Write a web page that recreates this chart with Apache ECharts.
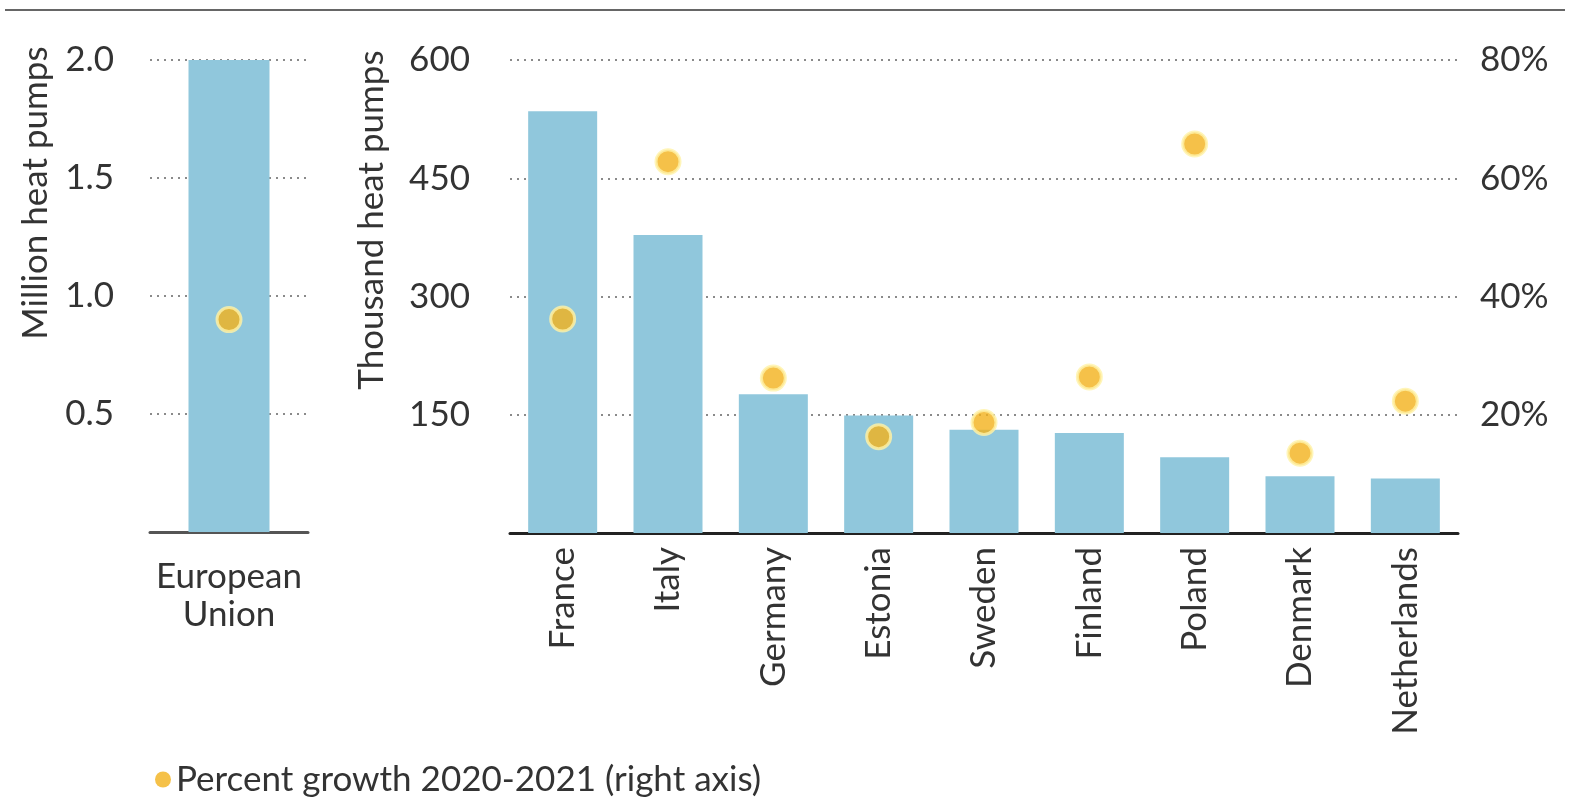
<!DOCTYPE html>
<html>
<head>
<meta charset="utf-8">
<script src="https://cdn.jsdelivr.net/npm/echarts@6/dist/echarts.min.js"></script>
<style>
html,body{margin:0;padding:0;background:#fff;}
#chart{width:1585px;height:806px;}
</style>
</head>
<body>
<div id="chart"></div>
<script>
const euCategory = ['European Union'];
const euHeatPumpsMillion = [2.03];
const euGrowthPct = [36];

const countries = ['France','Italy','Germany','Estonia','Sweden','Finland','Poland','Denmark','Netherlands'];
const heatPumpsThousand = [535, 378, 176, 149, 131, 127, 96, 72, 69];
const growthPct = [36.2, 62.8, 26.2, 16.3, 18.7, 26.4, 65.8, 13.5, 22.3];

const seriesGrowthName = 'Percent growth 2020-2021 (right axis)';

const FONT = 'Lato';
const TXT = '#333333';
const FS = 35;
const barColor = '#90c7dc';
const dotStyle = { color: '#f2b21c', borderColor: '#fff2a8', borderWidth: 3 };
const gridLine = { show: true, lineStyle: { color: '#8a8a8a', width: 2, type: [2, 5] } };

const chart = echarts.init(document.getElementById('chart'));
chart.setOption({
  animation: false,
  textStyle: { fontFamily: FONT },
  grid: [
    { left: 150, top: 60, width: 158, bottom: 274 },
    { left: 510, top: 60, right: 127, bottom: 273 }
  ],
  legend: {
    data: [{ name: seriesGrowthName, itemStyle: { color: '#f2b21c', borderWidth: 0 } }],
    left: 150, top: 757,
    icon: 'circle', itemWidth: 16, itemHeight: 16, itemGap: 8,
    textStyle: { fontFamily: FONT, fontSize: FS, color: TXT }
  },
  xAxis: [
    {
      gridIndex: 0, type: 'category', data: euCategory,
      axisLine: { lineStyle: { color: '#555', width: 3 } },
      axisTick: { show: false },
      axisLabel: { fontSize: FS, color: TXT, margin: 26, lineHeight: 38,
        formatter: v => v.replace(' ', '\n') }
    },
    {
      gridIndex: 1, type: 'category', data: countries,
      axisLine: { lineStyle: { color: '#222', width: 3 } },
      axisTick: { show: false },
      axisLabel: { fontSize: FS, color: TXT, rotate: 90, margin: 14, interval: 0 }
    }
  ],
  yAxis: [
    {
      gridIndex: 0, type: 'value', min: 0, max: 2, interval: 0.5,
      axisLine: { show: false }, axisTick: { show: false },
      axisLabel: { fontSize: FS, color: TXT, margin: 36, showMinLabel: false,
        formatter: v => v.toFixed(1) },
      splitLine: gridLine
    },
    {
      gridIndex: 0, type: 'value', min: 0, max: 80, interval: 20, show: false,
      splitLine: { show: false }
    },
    {
      gridIndex: 1, type: 'value', min: 0, max: 600, interval: 150,
      axisLine: { show: false }, axisTick: { show: false },
      axisLabel: { fontSize: FS, color: TXT, margin: 40, showMinLabel: false },
      splitLine: gridLine
    },
    {
      gridIndex: 1, type: 'value', min: 0, max: 80, interval: 20, position: 'right',
      axisLine: { show: false }, axisTick: { show: false },
      axisLabel: { fontSize: FS, color: TXT, margin: 22, showMinLabel: false,
        formatter: '{value}%' },
      splitLine: { show: false }
    }
  ],
  series: [
    {
      type: 'bar', xAxisIndex: 0, yAxisIndex: 0, data: euHeatPumpsMillion,
      barWidth: 81, itemStyle: { color: barColor }
    },
    {
      name: seriesGrowthName, type: 'scatter', xAxisIndex: 0, yAxisIndex: 1,
      data: euGrowthPct, symbolSize: 24, itemStyle: dotStyle, z: 5
    },
    {
      type: 'bar', xAxisIndex: 1, yAxisIndex: 2, data: heatPumpsThousand,
      barWidth: 69, itemStyle: { color: barColor }
    },
    {
      name: seriesGrowthName, type: 'scatter', xAxisIndex: 1, yAxisIndex: 3,
      data: growthPct, symbolSize: 24, itemStyle: dotStyle, z: 5
    }
  ],
  graphic: [
    { type: 'line', shape: { x1: 5, y1: 10, x2: 1565, y2: 10 },
      style: { stroke: '#666', lineWidth: 2 } },
    { type: 'text', x: 36, y: 193, rotation: Math.PI / 2,
      style: { text: 'Million heat pumps', font: FS + 'px ' + FONT, fill: TXT,
        textAlign: 'center', textVerticalAlign: 'middle' } },
    { type: 'text', x: 372, y: 220, rotation: Math.PI / 2,
      style: { text: 'Thousand heat pumps', font: FS + 'px ' + FONT, fill: TXT,
        textAlign: 'center', textVerticalAlign: 'middle' } }
  ]
});
</script>
</body>
</html>
